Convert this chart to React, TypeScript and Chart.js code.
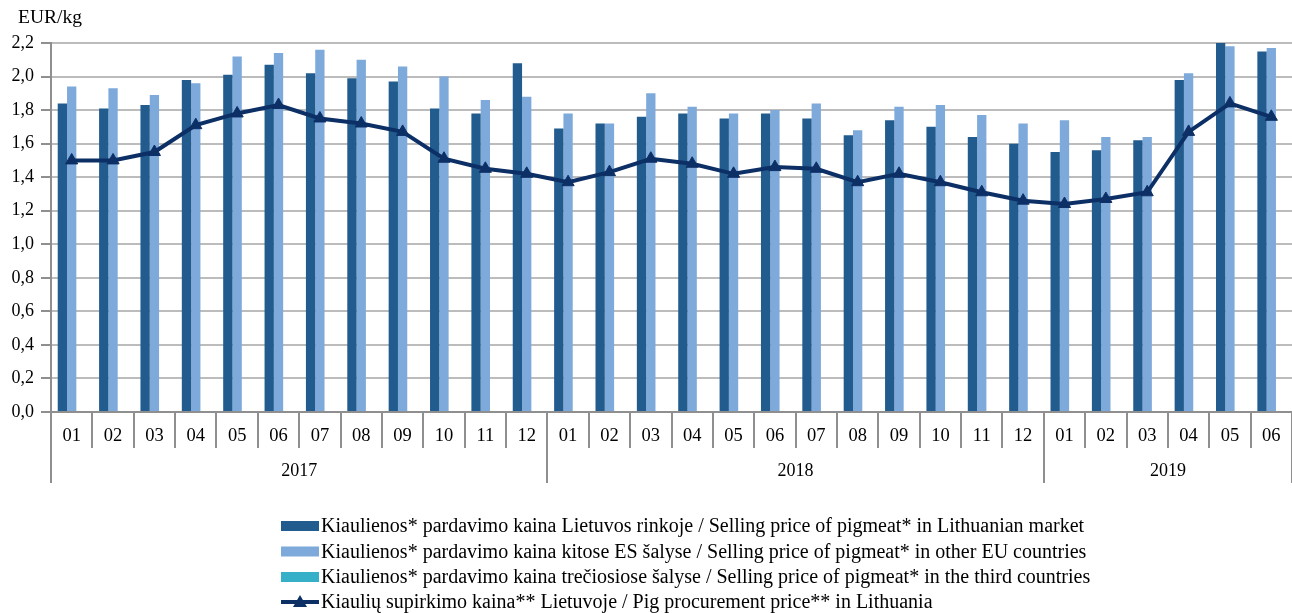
import React, { useEffect, useRef } from "react";
import { Chart, registerables } from "chart.js";

Chart.register(...registerables);

const months = [
  "01", "02", "03", "04", "05", "06", "07", "08", "09", "10", "11", "12",
  "01", "02", "03", "04", "05", "06", "07", "08", "09", "10", "11", "12",
  "01", "02", "03", "04", "05", "06",
];
const yearLabels = ["2017", "2018", "2019"];
const yearSpans = [12, 12, 6];

const lithuanianMarket = [
  1.84, 1.81, 1.83, 1.98, 2.01, 2.07, 2.02, 1.99, 1.97, 1.81, 1.78, 2.08,
  1.69, 1.72, 1.76, 1.78, 1.75, 1.78, 1.75, 1.65, 1.74, 1.70, 1.64, 1.60,
  1.55, 1.56, 1.62, 1.98, 2.20, 2.15,
];
const otherEU = [
  1.94, 1.93, 1.89, 1.96, 2.12, 2.14, 2.16, 2.10, 2.06, 2.00, 1.86, 1.88,
  1.78, 1.72, 1.90, 1.82, 1.78, 1.80, 1.84, 1.68, 1.82, 1.83, 1.77, 1.72,
  1.74, 1.64, 1.64, 2.02, 2.18, 2.17,
];
const thirdCountries = [
  null, null, null, null, null, null, null, null, null, null, null, null,
  null, null, null, null, null, null, null, null, null, null, null, null,
  null, null, null, null, null, null,
];
const procurement = [
  1.50, 1.50, 1.55, 1.71, 1.78, 1.83, 1.75, 1.72, 1.67, 1.51, 1.45, 1.42,
  1.37, 1.43, 1.51, 1.48, 1.42, 1.46, 1.45, 1.37, 1.42, 1.37, 1.31, 1.26,
  1.24, 1.27, 1.31, 1.67, 1.84, 1.76,
];

const seriesLabels = [
  "Kiaulienos* pardavimo kaina Lietuvos rinkoje / Selling price of pigmeat* in Lithuanian market",
  "Kiaulienos* pardavimo kaina kitose ES šalyse / Selling price of pigmeat* in other EU countries",
  "Kiaulienos* pardavimo kaina trečiosiose šalyse / Selling price of pigmeat* in the third countries",
  "Kiaulių supirkimo kaina** Lietuvoje / Pig procurement price** in Lithuania",
];

const FONT = "'Liberation Serif', 'Times New Roman', serif";
const DARK = "#225c8e";
const LIGHT = "#7eaadb";
const TEAL = "#35b0c8";
const NAVY = "#0c2f66";
const GRID = "#bcbcbc";
const AXIS = "#8f8f8f";

const extrasPlugin = {
  id: "extras",
  afterDraw(chart: any) {
    const ctx = chart.ctx;
    const xs = chart.scales.x;
    const bottom = chart.chartArea.bottom;
    const catW = xs.getPixelForValue(1) - xs.getPixelForValue(0);
    const boundary = (i: number) => xs.getPixelForValue(0) - catW / 2 + i * catW;
    ctx.save();
    // y-axis unit title
    ctx.fillStyle = "#000";
    ctx.font = `19.5px ${FONT}`;
    ctx.textAlign = "left";
    ctx.textBaseline = "middle";
    ctx.fillText("EUR/kg", 18, 18);

    // separators
    const yearBounds: number[] = [0];
    let acc = 0;
    yearSpans.forEach((s) => {
      acc += s;
      yearBounds.push(acc);
    });
    ctx.strokeStyle = AXIS;
    ctx.lineWidth = 2;
    for (let i = 0; i <= months.length; i++) {
      const x = Math.round(boundary(i));
      const isYear = yearBounds.indexOf(i) >= 0;
      ctx.beginPath();
      ctx.moveTo(x, bottom);
      ctx.lineTo(x, isYear ? bottom + 71 : bottom + 36);
      ctx.stroke();
    }
    // year labels
    ctx.font = `18px ${FONT}`;
    ctx.textAlign = "center";
    ctx.fillStyle = "#000";
    for (let k = 0; k < yearLabels.length; k++) {
      const cx = (boundary(yearBounds[k]) + boundary(yearBounds[k + 1])) / 2;
      ctx.fillText(yearLabels[k], cx, bottom + 59);
    }

    // legend
    const lx = 281;
    const rows = [526, 551.5, 577, 602];
    const colors = [DARK, LIGHT, TEAL];
    ctx.font = `20px ${FONT}`;
    ctx.textAlign = "left";
    ctx.textBaseline = "middle";
    for (let r = 0; r < 4; r++) {
      const y = rows[r];
      if (r < 3) {
        ctx.fillStyle = colors[r];
        ctx.fillRect(lx, y - 5, 38, 10);
      } else {
        ctx.strokeStyle = NAVY;
        ctx.lineWidth = 4;
        ctx.beginPath();
        ctx.moveTo(lx, y);
        ctx.lineTo(lx + 38, y);
        ctx.stroke();
        ctx.fillStyle = NAVY;
        ctx.beginPath();
        ctx.moveTo(lx + 19, y - 7);
        ctx.lineTo(lx + 26, y + 5);
        ctx.lineTo(lx + 12, y + 5);
        ctx.closePath();
        ctx.fill();
      }
      ctx.fillStyle = "#000";
      ctx.fillText(seriesLabels[r], lx + 40, y + 1);
    }
    ctx.restore();
  },
};

export default function App() {
  const ref = useRef<HTMLCanvasElement | null>(null);
  useEffect(() => {
    if (!ref.current) return;
    const chart = new Chart(ref.current, {
      type: "bar",
      data: {
        labels: months,
        datasets: [
          {
            type: "bar",
            label: seriesLabels[0],
            data: lithuanianMarket,
            backgroundColor: DARK,
            order: 1,
            barPercentage: 1,
            categoryPercentage: 0.675,
          },
          {
            type: "bar",
            label: seriesLabels[1],
            data: otherEU,
            backgroundColor: LIGHT,
            order: 1,
            barPercentage: 1,
            categoryPercentage: 0.675,
          },
          {
            type: "bar",
            label: seriesLabels[2],
            data: thirdCountries as any,
            backgroundColor: TEAL,
            order: 1,
            barPercentage: 1,
            categoryPercentage: 0.675,
          },
          {
            type: "line",
            label: seriesLabels[3],
            data: procurement,
            borderColor: NAVY,
            backgroundColor: NAVY,
            borderWidth: 4,
            pointStyle: "triangle",
            pointRadius: 7,
            pointBorderWidth: 1,
            pointBackgroundColor: NAVY,
            pointBorderColor: NAVY,
            tension: 0,
            order: 0,
          } as any,
        ],
      },
      options: {
        responsive: false,
        animation: false,
        layout: { padding: { top: 43, right: 1, left: 0, bottom: 0 } },
        plugins: {
          legend: { display: false },
          tooltip: { enabled: false },
          title: { display: false },
        },
        scales: {
          x: {
            type: "category",
            offset: true,
            grid: { display: false, drawTicks: false },
            border: { display: true, color: AXIS, width: 2 },
            ticks: {
              color: "#000",
              font: { family: FONT, size: 18.5 },
              padding: 13,
              maxRotation: 0,
              autoSkip: false,
            },
            afterFit: (s: any) => {
              s.height = 201;
            },
          },
          y: {
            min: 0,
            max: 2.2,
            grid: {
              color: GRID,
              lineWidth: 2,
              drawTicks: true,
              tickLength: 10,
              tickColor: AXIS,
            },
            border: { display: true, color: AXIS, width: 2 },
            ticks: {
              stepSize: 0.2,
              color: "#000",
              font: { family: FONT, size: 18 },
              padding: 7,
              callback: (v: any) => Number(v).toFixed(1).replace(".", ","),
            },
            afterFit: (s: any) => {
              s.width = 51;
            },
          },
        },
      },
      plugins: [extrasPlugin],
    });
    return () => chart.destroy();
  }, []);
  return (
    <div
      style={{
        position: "absolute",
        left: 0,
        top: 0,
        width: 1292,
        height: 613,
        overflow: "hidden",
        background: "#fff",
      }}
    >
      <canvas ref={ref} width={1300} height={613} style={{ display: "block" }} />
    </div>
  );
}
